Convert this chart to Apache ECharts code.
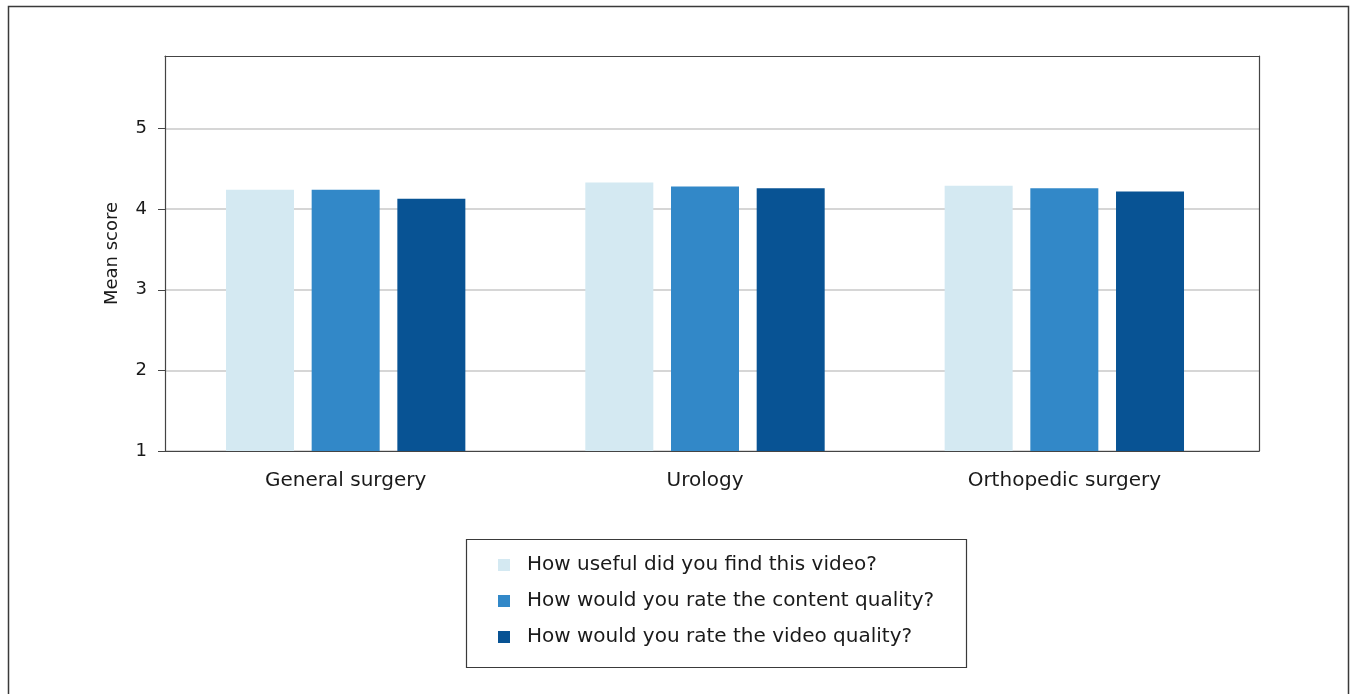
<!DOCTYPE html>
<html>
<head>
<meta charset="utf-8">
<style>
  html, body { margin: 0; padding: 0; background: #ffffff; }
  #chart { width: 1355px; height: 694px; }
</style>
<script src="https://cdn.jsdelivr.net/npm/echarts@6/dist/echarts.min.js"></script>
</head>
<body>
<div id="chart"></div>
<script>
const categories = ['General surgery', 'Urology', 'Orthopedic surgery'];
const seriesNames = [
  'How useful did you find this video?',
  'How would you rate the content quality?',
  'How would you rate the video quality?'
];
const usefulValues = [4.24, 4.33, 4.29];
const contentValues = [4.24, 4.28, 4.26];
const videoValues = [4.13, 4.26, 4.22];
const yTickValues = [1, 2, 3, 4, 5];
const colors = ['#d4e9f2', '#3288c8', '#085394'];

const FONT = 'DejaVu Sans';
const chart = echarts.init(document.getElementById('chart'), null, { renderer: 'canvas' });

const seriesData = [usefulValues, contentValues, videoValues];
const Y_MIN = 1, Y_MAX = 5.9;

chart.setOption({
  animation: false,
  backgroundColor: '#ffffff',
  textStyle: { fontFamily: FONT },
  graphic: [
    {
      type: 'rect', silent: true, z: -10,
      shape: { x: 8.5, y: 6.5, width: 1340, height: 720 },
      style: { fill: 'none', stroke: '#3a3a3a', lineWidth: 1.5 }
    },
    {
      type: 'rect', silent: true, z: -10,
      shape: { x: 466.5, y: 539.5, width: 500, height: 128 },
      style: { fill: 'none', stroke: '#3a3a3a', lineWidth: 1.2 }
    }
  ],
  legend: {
    orient: 'vertical',
    left: 498,
    top: 555,
    padding: 0,
    itemWidth: 12,
    itemHeight: 12,
    itemGap: 16,
    icon: 'rect',
    data: seriesNames,
    textStyle: {
      fontFamily: FONT, fontSize: 20, color: '#1a1a1a',
      lineHeight: 20, padding: [0, 0, 0, 12]
    }
  },
  grid: [
    { left: 165, top: 56, right: 96, bottom: 243, containLabel: false },
    { left: 166, top: 56, right: 111, bottom: 243, containLabel: false }
  ],
  xAxis: [
    {
      gridIndex: 0,
      type: 'category',
      data: categories,
      position: 'bottom',
      axisLine: { show: true, lineStyle: { color: '#444', width: 1.2 } },
      axisTick: { show: false },
      axisLabel: { show: false },
      splitLine: { show: false }
    },
    {
      gridIndex: 0,
      type: 'category',
      data: categories,
      position: 'top',
      axisLine: { show: true, lineStyle: { color: '#444', width: 1.2 } },
      axisTick: { show: false },
      axisLabel: { show: false },
      splitLine: { show: false }
    },
    {
      gridIndex: 1,
      type: 'category',
      data: categories,
      position: 'bottom',
      axisLine: { show: false },
      axisTick: { show: false },
      axisLabel: { fontFamily: FONT, fontSize: 20, color: '#1a1a1a', margin: 20 },
      splitLine: { show: false }
    }
  ],
  yAxis: [
    {
      gridIndex: 0,
      type: 'value',
      min: Y_MIN,
      max: Y_MAX,
      interval: 1,
      position: 'left',
      name: 'Mean score',
      nameLocation: 'middle',
      nameGap: 44,
      nameTextStyle: { fontFamily: FONT, fontSize: 18, color: '#1a1a1a' },
      axisLine: { show: true, lineStyle: { color: '#444', width: 1.2 } },
      axisTick: { show: true, length: 7, customValues: yTickValues, lineStyle: { color: '#444' } },
      axisLabel: { fontFamily: FONT, fontSize: 18, color: '#1a1a1a', margin: 18, customValues: yTickValues },
      splitLine: { show: true, lineStyle: { color: '#c8c8c8', width: 1.5 } }
    },
    {
      gridIndex: 0,
      type: 'value',
      min: Y_MIN,
      max: Y_MAX,
      interval: 1,
      position: 'right',
      axisLine: { show: true, lineStyle: { color: '#444', width: 1.2 } },
      axisTick: { show: false },
      axisLabel: { show: false },
      splitLine: { show: false }
    },
    {
      gridIndex: 1,
      type: 'value',
      min: Y_MIN,
      max: Y_MAX,
      interval: 1,
      show: false,
      splitLine: { show: false }
    }
  ],
  series: seriesNames.map((name, i) => ({
    name: name,
    type: 'bar',
    data: seriesData[i],
    xAxisIndex: 2,
    yAxisIndex: 2,
    barWidth: 68,
    barGap: '26%',
    itemStyle: { color: colors[i] },
    z: 1
  }))
});
</script>
</body>
</html>
